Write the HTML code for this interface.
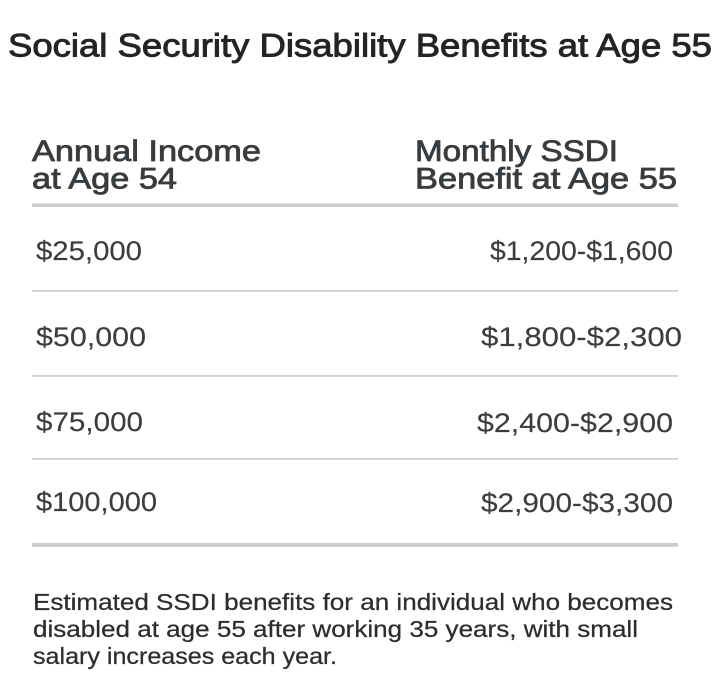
<!DOCTYPE html>
<html>
<head>
<meta charset="utf-8">
<style>
  html, body { margin: 0; padding: 0; background: #ffffff; }
  body { width: 720px; height: 693px; overflow: hidden; }
  svg { display: block; }
  text { font-family: "Liberation Sans", "DejaVu Sans", sans-serif; }
</style>
</head>
<body>
<svg width="720" height="693" viewBox="0 0 720 693" xmlns="http://www.w3.org/2000/svg">
  <rect x="0" y="0" width="720" height="693" fill="#ffffff"/>

  <!-- Title -->
  <text x="8" y="56.5" font-size="32.5" fill="#232425" stroke="#232425" stroke-width="0.9" textLength="704" lengthAdjust="spacingAndGlyphs">Social Security Disability Benefits at Age 55</text>

  <!-- Headers -->
  <g font-size="29.5" fill="#393c3f" stroke="#393c3f" stroke-width="0.8">
    <text x="32" y="161" textLength="229" lengthAdjust="spacingAndGlyphs">Annual Income</text>
    <text x="32" y="188.5" textLength="145" lengthAdjust="spacingAndGlyphs">at Age 54</text>
    <text x="415" y="161" textLength="203" lengthAdjust="spacingAndGlyphs">Monthly SSDI</text>
    <text x="415" y="188.5" textLength="262" lengthAdjust="spacingAndGlyphs">Benefit at Age 55</text>
  </g>

  <!-- Dividers -->
  <rect x="32" y="203.5" width="646" height="3.5" fill="#cbcccd"/>
  <rect x="32" y="290" width="646" height="1.8" fill="#cfd0d1"/>
  <rect x="32" y="375" width="646" height="1.8" fill="#cfd0d1"/>
  <rect x="32" y="458" width="646" height="1.8" fill="#cfd0d1"/>
  <rect x="32" y="543" width="646" height="3.8" fill="#cbcccd"/>

  <!-- Rows -->
  <g font-size="26.5" fill="#3b3d40" stroke="#3b3d40" stroke-width="0.15">
    <text x="36" y="260" textLength="106" lengthAdjust="spacingAndGlyphs">$25,000</text>
    <text x="490" y="260" textLength="183" lengthAdjust="spacingAndGlyphs">$1,200-$1,600</text>

    <text x="36" y="346" textLength="110" lengthAdjust="spacingAndGlyphs">$50,000</text>
    <text x="481" y="346" textLength="201" lengthAdjust="spacingAndGlyphs">$1,800-$2,300</text>

    <text x="36" y="431" textLength="107" lengthAdjust="spacingAndGlyphs">$75,000</text>
    <text x="477" y="432" textLength="196" lengthAdjust="spacingAndGlyphs">$2,400-$2,900</text>

    <text x="36" y="511" textLength="121" lengthAdjust="spacingAndGlyphs">$100,000</text>
    <text x="481" y="512" textLength="192" lengthAdjust="spacingAndGlyphs">$2,900-$3,300</text>
  </g>

  <!-- Footnote -->
  <g font-size="23" fill="#2b2d30" stroke="#2b2d30" stroke-width="0.25">
    <text x="33" y="610" textLength="640" lengthAdjust="spacingAndGlyphs">Estimated SSDI benefits for an individual who becomes</text>
    <text x="33" y="637" textLength="605" lengthAdjust="spacingAndGlyphs">disabled at age 55 after working 35 years, with small</text>
    <text x="33" y="664" textLength="304" lengthAdjust="spacingAndGlyphs">salary increases each year.</text>
  </g>
</svg>
</body>
</html>
